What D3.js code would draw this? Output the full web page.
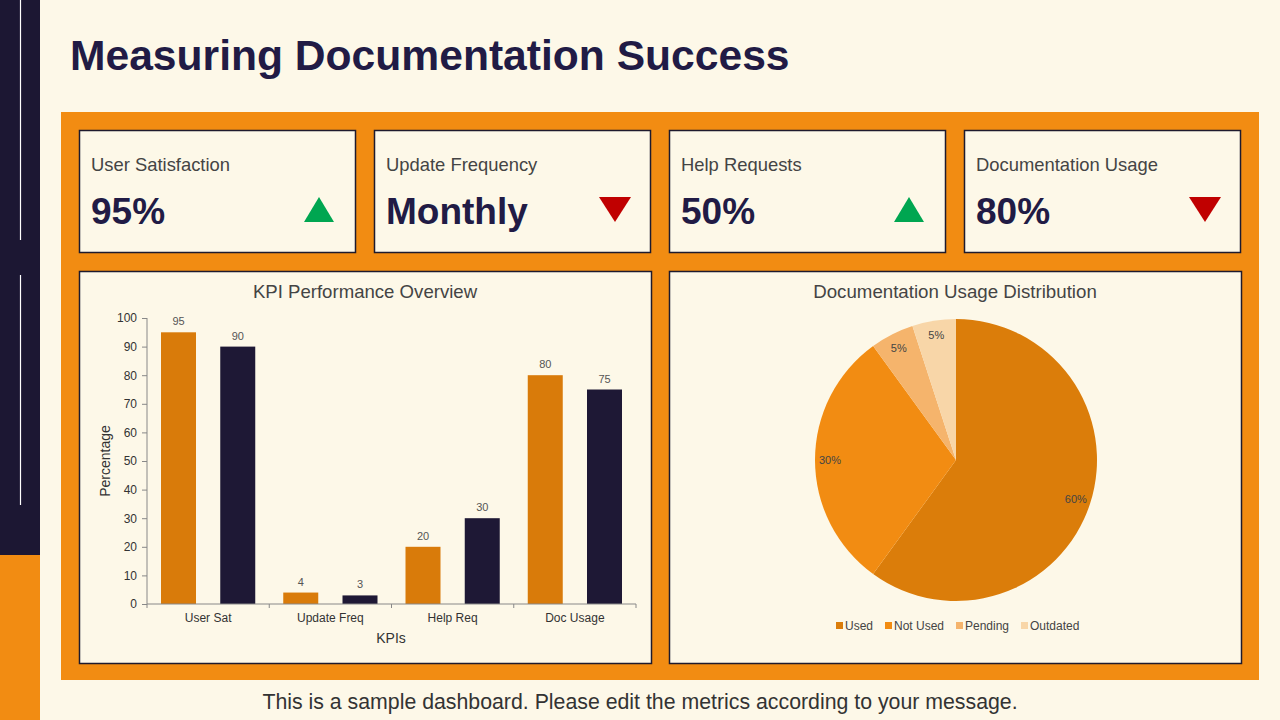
<!DOCTYPE html>
<html><head><meta charset="utf-8">
<script src="https://cdn.jsdelivr.net/npm/d3@7"></script>
<style>
html,body{margin:0;padding:0;background:#FDF8E8;}
svg{display:block;font-family:"Liberation Sans",Arial,sans-serif;}
</style></head>
<body>
<svg id="c" width="1280" height="720"></svg>
<script>
const kpiNames = ["User Satisfaction","Update Frequency","Help Requests","Documentation Usage"];
const kpiValues = ["95%","Monthly","50%","80%"];
const kpiTrends = ["up","down","up","down"];

const barCategories = ["User Sat","Update Freq","Help Req","Doc Usage"];
const seriesA = [95,4,20,80];
const seriesB = [90,3,30,75];
const yTicks = [0,10,20,30,40,50,60,70,80,90,100];

const pieLabels = ["Used","Not Used","Pending","Outdated"];
const pieValues = [60,30,5,5];

const NAVY="#211B45", ORANGE="#F28C12", CREAM="#FDF8E8";
const svg = d3.select("#c");
svg.append("rect").attr("width",1280).attr("height",720).attr("fill",CREAM);

// left sidebar
svg.append("rect").attr("x",0).attr("y",0).attr("width",40).attr("height",555).attr("fill","#1C1733");
svg.append("rect").attr("x",0).attr("y",555).attr("width",40).attr("height",165).attr("fill",ORANGE);
svg.append("line").attr("x1",20.5).attr("x2",20.5).attr("y1",0).attr("y2",240).attr("stroke","#fff").attr("stroke-width",1.2);
svg.append("line").attr("x1",20.5).attr("x2",20.5).attr("y1",275).attr("y2",505).attr("stroke","#fff").attr("stroke-width",1.2);

// title
svg.append("text").attr("x",70).attr("y",70).text("Measuring Documentation Success")
  .attr("font-size",42.6).attr("font-weight","bold").attr("fill",NAVY);

// orange panel
svg.append("rect").attr("x",61).attr("y",112).attr("width",1198).attr("height",568).attr("fill",ORANGE);

// KPI cards
const cardX = [79,374,669,964];
kpiNames.forEach((n,i)=>{
  const g = svg.append("g").attr("transform",`translate(${cardX[i]},130)`);
  g.append("rect").attr("x",0.5).attr("y",0.5).attr("width",276).attr("height",122).attr("fill",CREAM).attr("stroke","#1E1A2E").attr("stroke-width",1.5);
  g.append("text").attr("x",12).attr("y",41).text(n).attr("font-size",18.4).attr("fill","#444");
  g.append("text").attr("x",12).attr("y",94).text(kpiValues[i]).attr("font-size",37).attr("font-weight","bold").attr("fill",NAVY);
  const tx = 240, ty = 80;
  if(kpiTrends[i]==="up"){
    g.append("path").attr("d",`M${tx-15},${ty+12}L${tx+15},${ty+12}L${tx},${ty-13}Z`).attr("fill","#00A651");
  } else {
    g.append("path").attr("d",`M${tx-15},${ty-13}L${tx+17},${ty-13}L${tx+1},${ty+12}Z`).attr("fill","#C00000");
  }
});

// chart panels
[[79,271],[669,271]].forEach(([x,y])=>{
  svg.append("rect").attr("x",x+0.5).attr("y",y+0.5).attr("width",572).attr("height",392).attr("fill",CREAM).attr("stroke","#1E1A2E").attr("stroke-width",1.5);
});

// bar chart
svg.append("text").attr("x",365).attr("y",298).attr("text-anchor","middle").text("KPI Performance Overview").attr("font-size",18.6).attr("fill","#444");
const x0 = d3.scaleBand().domain(barCategories).range([147,636]).paddingInner(0).paddingOuter(0);
const y = d3.scaleLinear().domain([0,100]).range([604,318]);
const bw = 35, inset = 14;
const bars = svg.append("g");
barCategories.forEach((c,i)=>{
  const bx = x0(c);
  const xa = bx+inset, xb = bx + x0.bandwidth() - inset - bw;
  [[xa,seriesA[i],"#D97B0A"],[xb,seriesB[i],"#1E1835"]].forEach(([xx,v,col])=>{
    bars.append("rect").attr("x",xx).attr("y",y(v)).attr("width",bw).attr("height",y(0)-y(v)).attr("fill",col);
    bars.append("text").attr("x",xx+bw/2).attr("y",y(v)-7).attr("text-anchor","middle").text(v).attr("font-size",11).attr("fill","#555");
  });
});
const yAxis = d3.axisLeft(y).tickValues(yTicks).tickSize(5).tickPadding(5);
const ya = svg.append("g").attr("transform","translate(147,0)").call(yAxis);
ya.selectAll("text").attr("font-size",12).attr("fill","#333").attr("font-family","Liberation Sans, Arial, sans-serif");
ya.selectAll("line,path").attr("stroke","#888");
ya.select(".domain").attr("d","M0,318V604");
const xa = svg.append("g").attr("transform","translate(0,604)");
xa.append("line").attr("x1",147).attr("x2",636).attr("stroke","#888");
const bounds = barCategories.map(c=>x0(c)).concat([636]);
xa.selectAll("line.t").data(bounds).enter().append("line").attr("x1",d=>d).attr("x2",d=>d).attr("y1",0).attr("y2",4).attr("stroke","#888");
xa.selectAll("text").data(barCategories).enter().append("text").attr("x",d=>x0(d)+x0.bandwidth()/2).attr("y",18).attr("text-anchor","middle").text(d=>d).attr("font-size",12).attr("fill","#333");
svg.append("text").attr("x",391).attr("y",643).attr("text-anchor","middle").text("KPIs").attr("font-size",14).attr("fill","#333");
svg.append("text").attr("transform","translate(110,461) rotate(-90)").attr("text-anchor","middle").text("Percentage").attr("font-size",14).attr("fill","#333");

// pie
svg.append("text").attr("x",955).attr("y",298).attr("text-anchor","middle").text("Documentation Usage Distribution").attr("font-size",18.7).attr("fill","#444");
const pieColors = d3.scaleOrdinal().domain(pieLabels).range(["#DB7D0A","#F28C12","#F5B46C","#F8D6A8"]);
const pie = d3.pie().sort(null).value(d=>d)(pieValues);
const R = 141;
const arc = d3.arc().innerRadius(0).outerRadius(R);
const lab = d3.arc().innerRadius(126).outerRadius(126);
const pg = svg.append("g").attr("transform","translate(956,460)");
pg.selectAll("path").data(pie).enter().append("path").attr("d",arc).attr("fill",(d,i)=>pieColors(pieLabels[i]));
pg.selectAll("text").data(pie).enter().append("text")
  .attr("transform",d=>{const [a,b]=lab.centroid(d);return `translate(${a},${b})`;})
  .attr("text-anchor","middle").attr("dy","0.35em").text(d=>d.data+"%").attr("font-size",11).attr("fill","#444");

// legend
const legX = [836,885,956,1021];
pieLabels.forEach((l,i)=>{
  svg.append("rect").attr("x",legX[i]).attr("y",622).attr("width",7).attr("height",7).attr("fill",pieColors(l));
  svg.append("text").attr("x",legX[i]+9).attr("y",630).text(l).attr("font-size",12).attr("fill","#444");
});

// footer
svg.append("text").attr("x",640).attr("y",709).attr("text-anchor","middle").text("This is a sample dashboard. Please edit the metrics according to your message.").attr("font-size",21.3).attr("fill","#333");
</script>
</body></html>
